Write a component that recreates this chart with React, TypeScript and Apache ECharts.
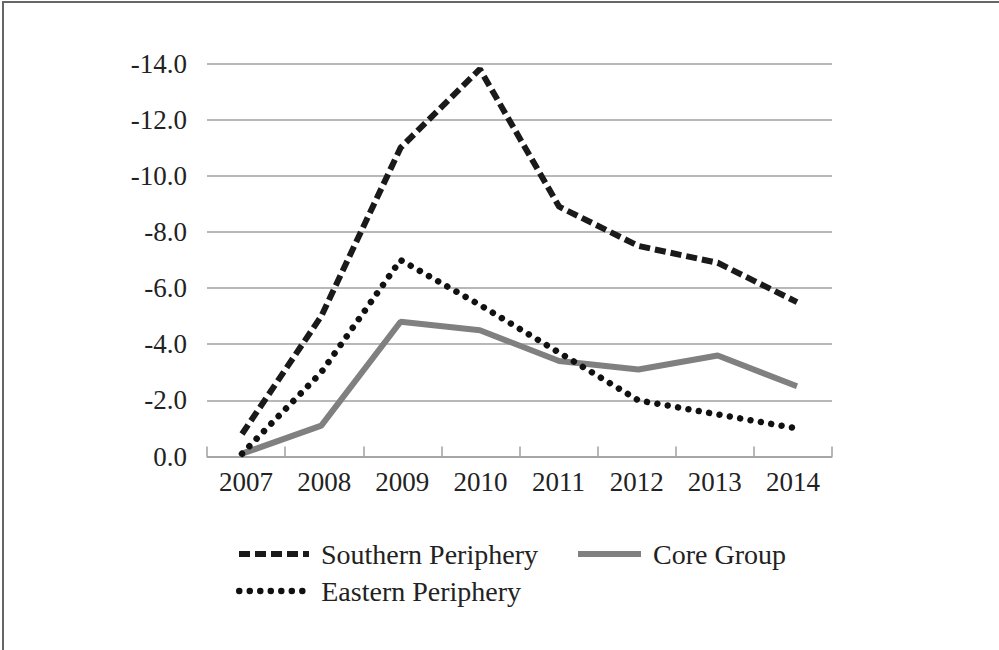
import React, { useEffect, useRef } from "react";
import * as echarts from "echarts";

const years = ["2007", "2008", "2009", "2010", "2011", "2012", "2013", "2014"];
const southern = [-0.8, -5.0, -11.0, -13.8, -8.9, -7.5, -6.9, -5.5];
const eastern = [-0.1, -3.0, -7.0, -5.4, -3.7, -2.0, -1.5, -1.0];
const core = [-0.1, -1.1, -4.8, -4.5, -3.4, -3.1, -3.6, -2.5];
const yMin = -14;
const yMax = 0;
const yStep = 2;

const FONT = '"Liberation Serif", "Times New Roman", serif';
const TXT = "#222222";

export default function App() {
  const ref = useRef<HTMLDivElement>(null);
  useEffect(() => {
    document.body.style.margin = "0";
    const chart = echarts.init(ref.current!, null, { renderer: "svg" });
    const legendText = { fontFamily: FONT, fontSize: 28, color: TXT, padding: [0, 0, 0, 7], lineHeight: 30 };
    const legendCommon = {
      itemHeight: 14,
      padding: 0,
      selectedMode: false,
      textStyle: legendText,
      itemStyle: { opacity: 0, borderWidth: 0 },
    };
    chart.setOption({
      animation: false,
      backgroundColor: "#ffffff",
      textStyle: { fontFamily: FONT },
      graphic: [
        {
          type: "rect",
          shape: { x: 3, y: 2, width: 1100, height: 800 },
          style: { fill: "none", stroke: "#666666", lineWidth: 2 },
          silent: true,
        },
      ],
      grid: [
        { left: 207, right: 167, top: 63.5, bottom: 193.5 },
        { left: 242, right: 202, top: 63.5, bottom: 193.5 },
      ],
      xAxis: [
        {
          type: "category",
          gridIndex: 0,
          data: years,
          boundaryGap: true,
          axisLine: { onZero: false, lineStyle: { color: "#a0a0a0", width: 1.5 } },
          axisTick: { show: true, inside: true, length: 10, lineStyle: { color: "#a0a0a0", width: 1.5 } },
          axisLabel: { fontFamily: FONT, fontSize: 27, color: TXT, margin: 12 },
          splitLine: { show: false },
        },
        {
          type: "category",
          gridIndex: 1,
          data: years,
          boundaryGap: false,
          show: false,
        },
      ],
      yAxis: [
        {
          type: "value",
          gridIndex: 0,
          inverse: true,
          min: yMin,
          max: yMax,
          interval: yStep,
          axisLine: { show: false },
          axisTick: { show: false },
          axisLabel: {
            fontFamily: FONT,
            fontSize: 27,
            color: TXT,
            margin: 20,
            formatter: (v: number) => (Math.abs(v) < 1e-9 ? "0.0" : v.toFixed(1)),
          },
          splitLine: { show: true, lineStyle: { color: "#a0a0a0", width: 1.5 } },
        },
        {
          type: "value",
          gridIndex: 1,
          inverse: true,
          min: yMin,
          max: yMax,
          show: false,
          splitLine: { show: false },
        },
      ],
      legend: [
        {
          ...legendCommon,
          data: ["Southern Periphery"],
          left: 236,
          top: 539,
          itemWidth: 70,
          lineStyle: { width: 6 },
        },
        {
          ...legendCommon,
          data: ["Core Group"],
          left: 575,
          top: 539,
          itemWidth: 63,
          lineStyle: { width: 6 },
        },
        {
          ...legendCommon,
          data: ["Eastern Periphery"],
          left: 236,
          top: 576,
          itemWidth: 70,
          lineStyle: { width: 6.5 },
        },
      ],
      series: [
        {
          name: "Southern Periphery",
          type: "line",
          xAxisIndex: 1,
          yAxisIndex: 1,
          data: southern,
          symbol: "none",
          color: "#1a1a1a",
          lineStyle: { color: "#1a1a1a", width: 6, type: [11, 5], cap: "butt" },
        },
        {
          name: "Core Group",
          type: "line",
          xAxisIndex: 1,
          yAxisIndex: 1,
          data: core,
          symbol: "none",
          color: "#808080",
          lineStyle: { color: "#808080", width: 6 },
        },
        {
          name: "Eastern Periphery",
          type: "line",
          xAxisIndex: 1,
          yAxisIndex: 1,
          data: eastern,
          symbol: "none",
          color: "#111111",
          lineStyle: { color: "#111111", width: 6.5, type: [0.01, 10.5], cap: "round" },
        },
      ],
    });
    return () => chart.dispose();
  }, []);
  return <div ref={ref} style={{ width: 999, height: 650 }} />;
}
